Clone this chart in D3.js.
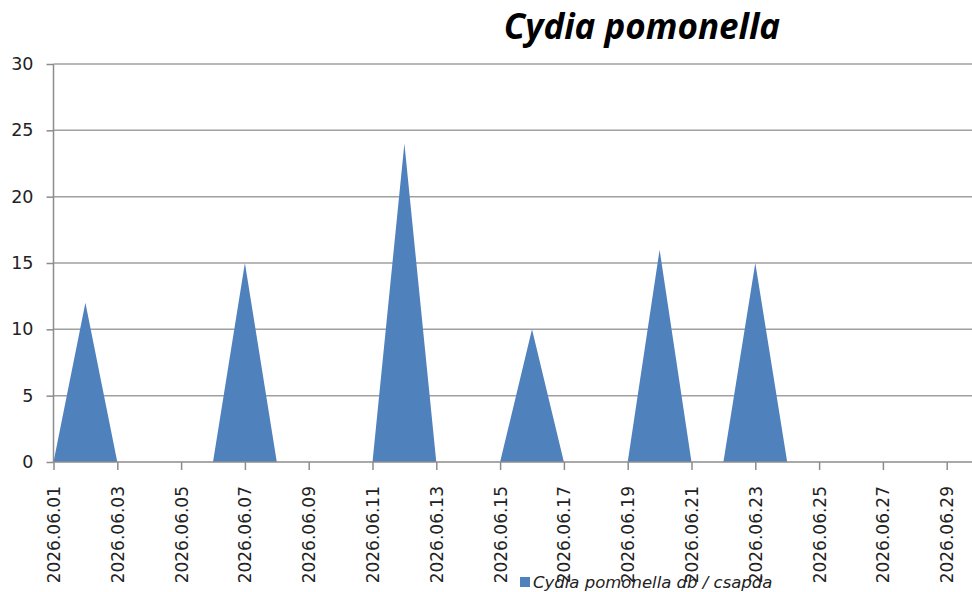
<!DOCTYPE html>
<html>
<head>
<meta charset="utf-8">
<script src="https://cdnjs.cloudflare.com/ajax/libs/d3/7.8.5/d3.min.js"></script>
<style>
  body { margin: 0; background: #fff; }
  svg { display: block; }
</style>
</head>
<body>
<div id="chart"></div>
<script>
// daily trap counts, June 2026
var dates = ["2026.06.01","2026.06.02","2026.06.03","2026.06.04","2026.06.05","2026.06.06",
             "2026.06.07","2026.06.08","2026.06.09","2026.06.10","2026.06.11","2026.06.12",
             "2026.06.13","2026.06.14","2026.06.15","2026.06.16","2026.06.17","2026.06.18",
             "2026.06.19","2026.06.20","2026.06.21","2026.06.22","2026.06.23","2026.06.24",
             "2026.06.25","2026.06.26","2026.06.27","2026.06.28","2026.06.29","2026.06.30"];
var counts = [0,12,0,0,0,0, 15,0,0,0,0,24, 0,0,0,10,0,0, 0,16,0,0,15,0, 0,0,0,0,0,0];
var yTicks = [0,5,10,15,20,25,30];
var seriesName = "Cydia pomonella db / csapda";
var title = "Cydia pomonella";

var width = 972, height = 592;
var svg = d3.select("#chart").append("svg").attr("width", width).attr("height", height);

var x = d3.scalePoint().domain(dates).range([53.5, 53.5 + 29 * 31.9]);
var y = d3.scaleLinear().domain([0, 30]).range([462, 64]);

// gridlines
svg.append("g").selectAll("line")
  .data(yTicks.slice(1))
  .enter().append("line")
  .attr("x1", 53.5).attr("x2", width)
  .attr("y1", function(d) { return y(d); })
  .attr("y2", function(d) { return y(d); })
  .attr("stroke", "#a0a0a0").attr("stroke-width", 1.5);

// area
var data = dates.map(function(d, i) { return { date: d, v: counts[i] }; });
var area = d3.area()
  .x(function(d) { return x(d.date); })
  .y0(y(0))
  .y1(function(d) { return y(d.v); });
svg.append("path").datum(data).attr("d", area).attr("fill", "#4f81bd");

// y axis
var yAxis = svg.append("g").attr("transform", "translate(53.5,0)")
  .call(d3.axisLeft(y).tickValues(yTicks).tickSize(7).tickPadding(13));
yAxis.select(".domain").attr("stroke", "#8c8c8c").attr("stroke-width", 1.5).attr("d", "M0,64V462");
yAxis.selectAll(".tick line").attr("stroke", "#8c8c8c").attr("stroke-width", 1.5);
yAxis.selectAll(".tick text").attr("font-family", "DejaVu Sans").attr("font-size", 17.5).attr("fill", "#222");

// x axis
var labelDates = dates.filter(function(d, i) { return i % 2 === 0; });
var xAxis = svg.append("g").attr("transform", "translate(0,462)")
  .call(d3.axisBottom(x).tickValues(labelDates).tickSize(8).tickPadding(0));
xAxis.select(".domain").attr("stroke", "#8c8c8c").attr("stroke-width", 1.5).attr("d", "M53.5,0H" + width);
xAxis.selectAll(".tick line").attr("stroke", "#8c8c8c").attr("stroke-width", 1.5);
xAxis.selectAll(".tick text")
  .attr("font-family", "DejaVu Sans").attr("font-size", 17).attr("fill", "#222")
  .attr("transform", "rotate(-90)")
  .attr("text-anchor", "end")
  .attr("x", -24).attr("y", 0).attr("dy", "0.35em");

// title
svg.append("text")
  .attr("x", 642).attr("y", 39)
  .attr("text-anchor", "middle")
  .attr("font-family", "Open Sans").attr("font-weight", "bold").attr("font-style", "italic")
  .attr("font-size", 35).attr("fill", "#000")
  .text(title);

// legend
var lg = svg.append("g").attr("transform", "translate(520,577)");
lg.append("rect").attr("width", 10).attr("height", 10).attr("fill", "#4f81bd");
lg.append("text").attr("x", 13).attr("y", 10.5)
  .attr("font-family", "DejaVu Sans").attr("font-style", "italic").attr("font-size", 16.5)
  .attr("fill", "#222").text(seriesName);
</script>
</body>
</html>
